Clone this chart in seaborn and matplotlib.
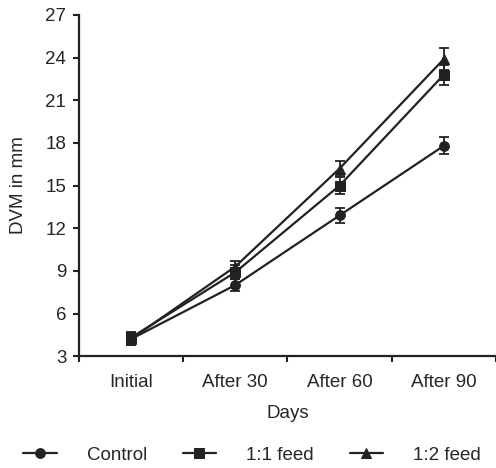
import numpy as np
import pandas as pd
import matplotlib.pyplot as plt
import seaborn as sns

days = ['Initial', 'After 30', 'After 60', 'After 90']
groups = ['Control', '1:1 feed', '1:2 feed']
control = [4.2, 8.0, 12.9, 17.8]
feed_11 = [4.3, 8.9, 15.0, 22.8]
feed_12 = [4.2, 9.3, 16.2, 23.9]
control_err = [0.4, 0.4, 0.5, 0.6]
feed_11_err = [0.4, 0.5, 0.6, 0.7]
feed_12_err = [0.4, 0.4, 0.5, 0.8]

sns.set_style('white')
plt.rcParams['font.family'] = ['Liberation Sans', 'DejaVu Sans']
plt.rcParams['font.size'] = 13.5

df = pd.DataFrame({
    'Days': days * 3,
    'DVM': control + feed_11 + feed_12,
    'err': control_err + feed_11_err + feed_12_err,
    'Group': [g for g in groups for _ in days],
})

col = '#222222'
fig = plt.figure(figsize=(4.96, 4.68), dpi=100)
ax = fig.add_axes([0.159, 0.239, 0.841, 0.729])

sns.lineplot(data=df, x='Days', y='DVM', hue='Group', style='Group',
             markers=['o', 's', '^'], dashes=False, markersize=7,
             palette=[col] * 3, linewidth=1.6, ax=ax, sort=False,
             markeredgecolor=col)

# error bars from the table
for g in groups:
    sub = df[df['Group'] == g]
    ax.errorbar(np.arange(len(days)), sub['DVM'], yerr=sub['err'], fmt='none',
                ecolor=col, elinewidth=1.3, capsize=3.5, capthick=1.3)

ax.set_xlim(-0.5, 3.5)
ax.set_ylim(3, 27)
ax.set_yticks(range(3, 28, 3))
ax.set_xticks([-0.5, 0.5, 1.5, 2.5, 3.5])
ax.set_xticklabels([])
ax.set_xticks(range(len(days)), minor=True)
ax.set_xticklabels(days, minor=True)
ax.tick_params(axis='x', which='major', direction='out', length=4, width=1.5, color=col, bottom=True)
ax.tick_params(axis='x', which='minor', length=0, pad=13, bottom=True)
ax.tick_params(axis='y', direction='out', length=4, width=1.5, color=col, left=True, pad=5)

for s in ['top', 'right']:
    ax.spines[s].set_visible(False)
for s in ['left', 'bottom']:
    ax.spines[s].set_color(col)
    ax.spines[s].set_linewidth(1.6)

ax.set_xlabel('Days', labelpad=10)
ax.set_ylabel('DVM in mm', labelpad=13)

ax.legend(loc='center', bbox_to_anchor=(0.415, -0.29), ncol=3, frameon=False,
          handlelength=1.8, handletextpad=1.6, columnspacing=1.9)

fig.savefig('out.png', dpi=100)
